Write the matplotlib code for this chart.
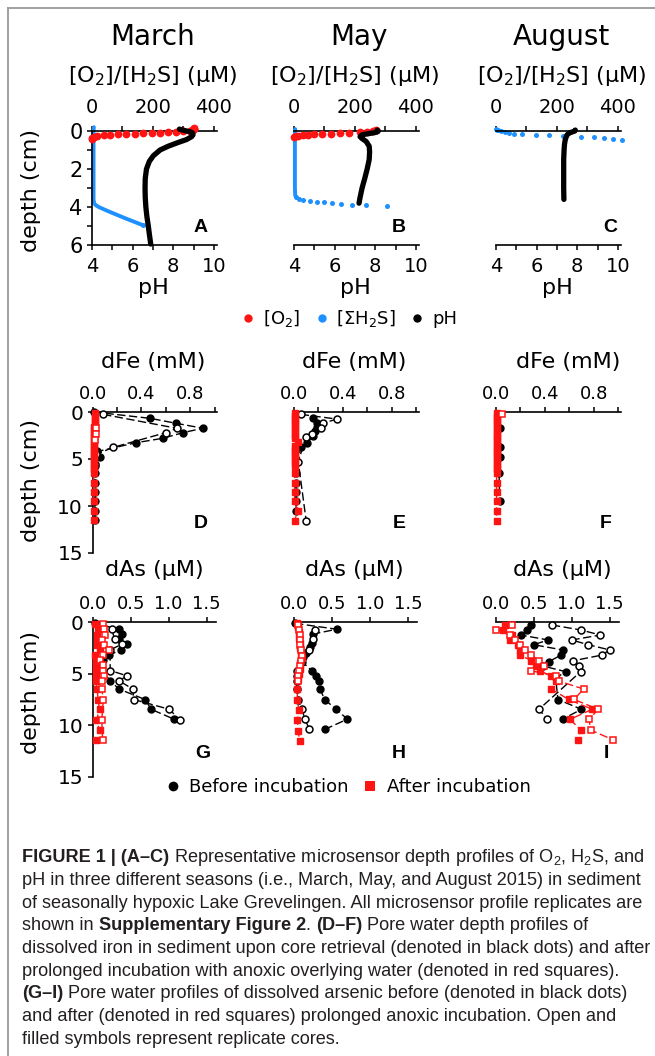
import matplotlib
matplotlib.use('Agg')
import matplotlib.pyplot as plt
from matplotlib.lines import Line2D
from matplotlib.font_manager import FontProperties

plt.rcParams['font.family'] = 'DejaVu Sans'
plt.rcParams['mathtext.fontset'] = 'custom'
plt.rcParams['mathtext.rm'] = 'Liberation Sans'
plt.rcParams['mathtext.it'] = 'Liberation Sans:italic'
plt.rcParams['mathtext.bf'] = 'Liberation Sans:bold'

# ---------------- data: microsensor profiles (A-C) ----------------
MARCH_O2_DEPTH = [-0.15, -0.12, -0.09, -0.06, -0.03, 0.0, 0.02, 0.04, 0.06, 0.08, 0.1, 0.12,
                  0.14, 0.16, 0.18, 0.2, 0.22, 0.25, 0.3, 0.35, 0.4]
MARCH_O2 = [336, 335, 334, 332, 328, 320, 300, 276, 250, 223, 196, 168,
            140, 112, 86, 60, 38, 18, 6, 1, 0]
MARCH_H2S_DEPTH = [-0.2, 0.0, 1.0, 2.0, 3.0, 3.6, 3.8, 3.9, 4.0, 4.2, 4.4, 4.6, 4.8, 4.95]
MARCH_H2S = [6, 5, 5, 5, 5, 5, 7, 12, 22, 50, 80, 110, 142, 166]
MARCH_PH_DEPTH = [-0.1, -0.05, 0.0, 0.05, 0.1, 0.2, 0.3, 0.45, 0.6, 0.8, 1.0, 1.3, 1.6, 2.0,
                  2.5, 3.0, 3.5, 4.0, 4.5, 5.0, 5.5, 5.95]
MARCH_PH = [8.3, 8.45, 8.65, 8.85, 8.95, 8.97, 8.9, 8.65, 8.25, 7.75, 7.35, 7.02, 6.82, 6.68,
            6.62, 6.61, 6.62, 6.65, 6.7, 6.77, 6.83, 6.89]

MAY_O2_DEPTH = [-0.05, 0.0, 0.04, 0.07, 0.1, 0.12, 0.14, 0.16, 0.18, 0.2, 0.22, 0.25, 0.28, 0.32]
MAY_O2 = [268, 260, 240, 215, 180, 150, 120, 92, 66, 45, 28, 14, 5, 0]
MAY_H2S_DEPTH = [-0.1, 0.0, 1.0, 2.0, 3.0, 3.4, 3.5, 3.56, 3.62, 3.67, 3.72, 3.76, 3.8,
                 3.83, 3.87, 3.9, 3.95]
MAY_H2S = [4, 3, 3, 3, 3, 4, 8, 16, 30, 52, 75, 100, 125, 155, 190, 235, 305]
MAY_PH_DEPTH = [-0.05, 0.0, 0.05, 0.1, 0.15, 0.2, 0.3, 0.4, 0.55, 0.8, 1.1, 1.5, 2.0, 2.5,
                3.0, 3.5, 3.8]
MAY_PH = [8.1, 8.15, 8.1, 7.9, 7.6, 7.35, 7.25, 7.35, 7.55, 7.7, 7.72, 7.7, 7.6, 7.48,
          7.35, 7.25, 7.2]

AUG_O2_DEPTH = []
AUG_O2 = []
AUG_H2S_DEPTH = [-0.1, -0.07, -0.03, 0.0, 0.05, 0.1, 0.14, 0.17, 0.2, 0.23, 0.26, 0.3,
                 0.34, 0.38, 0.42, 0.47]
AUG_H2S = [0, 3, 8, 15, 28, 42, 58, 85, 130, 175, 220, 280, 320, 355, 385, 412]
AUG_PH_DEPTH = [-0.05, 0.0, 0.05, 0.1, 0.2, 0.35, 0.5, 0.7, 1.0, 1.5, 2.0, 2.5, 3.0, 3.6]
AUG_PH = [7.9, 7.88, 7.75, 7.62, 7.5, 7.44, 7.4, 7.37, 7.35, 7.33, 7.33, 7.33, 7.33, 7.34]

# ---------------- data: dissolved Fe (D-F), mM ----------------
D_BEF_F_DEPTH = [0.0, 0.67, 1.2, 1.73, 2.2, 2.8, 3.26, 4.2, 4.75, 5.7, 6.5, 7.5, 8.5, 9.5, 10.5, 11.5]
D_BEF_F = [0.01, 0.47, 0.685, 0.905, 0.74, 0.576, 0.36, 0.04, 0.06, 0.02, 0.02, 0.02, 0.02, 0.02, 0.02, 0.02]
D_BEF_O_DEPTH = [0.25, 1.73, 2.2, 3.76, 4.5, 5.5]
D_BEF_O = [0.087, 0.69, 0.60, 0.17, 0.03, 0.02]
D_AFT_F_DEPTH = [0.1, 0.4, 0.7, 1.0, 1.3, 1.6, 1.9, 2.2, 2.5, 2.8, 3.1, 3.4, 3.7, 4.0, 4.3, 4.6,
                 4.9, 5.2, 5.5, 5.8, 6.1, 6.5, 7.5, 8.5, 9.5, 10.5, 11.5]
D_AFT_F = [0.02, 0.02, 0.02, 0.02, 0.02, 0.015, 0.015, 0.015, 0.015, 0.015, 0.01, 0.01, 0.01, 0.01,
           0.01, 0.01, 0.01, 0.01, 0.01, 0.01, 0.01, 0.01, 0.01, 0.01, 0.01, 0.01, 0.01]
D_AFT_O_DEPTH = [1.75, 2.35, 3.0]
D_AFT_O = [0.025, 0.025, 0.02]

E_BEF_F_DEPTH = [0.6, 1.2, 1.6, 2.0, 2.6, 3.26, 3.76, 6.5, 7.5, 8.5, 9.5, 10.5]
E_BEF_F = [0.153, 0.19, 0.186, 0.17, 0.158, 0.11, 0.055, 0.016, 0.016, 0.016, 0.016, 0.02]
E_BEF_O_DEPTH = [0.25, 0.75, 1.2, 1.7, 2.33, 2.7, 5.3, 11.6]
E_BEF_O = [0.055, 0.35, 0.24, 0.22, 0.145, 0.096, 0.035, 0.10]
E_AFT_F_DEPTH = [0.1, 0.4, 0.7, 1.0, 1.3, 1.6, 1.9, 2.2, 2.5, 2.8, 3.2, 3.6, 3.9, 4.2, 4.5, 4.8,
                 5.1, 5.4, 5.7, 6.5, 7.5, 8.5, 9.5, 10.5, 11.6]
E_AFT_F = [0.01, 0.01, 0.01, 0.01, 0.01, 0.01, 0.01, 0.01, 0.01, 0.01, 0.035, 0.01, 0.01, 0.01,
           0.01, 0.01, 0.01, 0.01, 0.01, 0.005, 0.005, 0.005, 0.005, 0.03, 0.005]
E_AFT_O_DEPTH = []
E_AFT_O = []

F_BEF_F_DEPTH = [1.7, 3.7, 4.75, 6.5, 9.5]
F_BEF_F = [0.03, 0.03, 0.03, 0.025, 0.03]
F_BEF_O_DEPTH = []
F_BEF_O = []
F_AFT_F_DEPTH = [0.1, 0.4, 0.7, 1.0, 1.3, 1.6, 1.9, 2.2, 2.5, 2.8, 3.1, 3.4, 3.7, 4.0, 4.3, 4.6,
                 4.9, 5.2, 5.5, 5.8, 6.1, 6.5, 7.5, 8.5, 9.5, 10.5, 11.6]
F_AFT_F = [0.01, 0.01, 0.01, 0.01, 0.01, 0.01, 0.01, 0.01, 0.01, 0.01, 0.01, 0.01, 0.01, 0.01,
           0.01, 0.01, 0.01, 0.01, 0.01, 0.01, 0.01, 0.005, 0.005, 0.005, 0.005, 0.005, 0.005]
F_AFT_O_DEPTH = [0.25]
F_AFT_O = [0.047]

# ---------------- data: dissolved As (G-I), uM ----------------
G_BEF_F_DEPTH = [0.13, 0.7, 1.16, 1.68, 2.13, 2.7, 3.2, 3.68, 4.2, 5.7, 6.5, 7.5, 8.45, 9.4]
G_BEF_F = [0.03, 0.34, 0.38, 0.35, 0.45, 0.37, 0.22, 0.14, 0.08, 0.23, 0.35, 0.69, 0.77, 1.07]
G_BEF_O_DEPTH = [0.7, 1.68, 2.13, 2.7, 4.7, 5.2, 5.7, 6.5, 7.5, 8.45, 9.5]
G_BEF_O = [0.25, 0.29, 0.39, 0.23, 0.23, 0.45, 0.35, 0.53, 0.54, 1.01, 1.15]
G_AFT_F_DEPTH = [0.2, 0.7, 1.26, 1.7, 2.2, 2.7, 3.2, 3.7, 4.2, 4.74, 5.2, 5.7, 6.5, 7.5, 8.45,
                 9.5, 10.45, 11.4]
G_AFT_F = [0.03, 0.07, 0.06, 0.06, 0.06, 0.09, 0.03, 0.05, 0.04, 0.04, 0.05, 0.04, 0.06, 0.07,
           0.09, 0.05, 0.09, 0.05]
G_AFT_O_DEPTH = [0.2, 0.7, 1.26, 1.7, 2.2, 2.7, 3.2, 3.7, 4.2, 4.74, 5.2, 5.7, 6.5, 7.5, 9.5, 11.4]
G_AFT_O = [0.13, 0.15, 0.16, 0.12, 0.15, 0.22, 0.14, 0.1, 0.14, 0.14, 0.15, 0.12, 0.12, 0.14,
           0.12, 0.13]

H_BEF_F_DEPTH = [0.13, 0.7, 1.16, 2.0, 2.4, 2.97, 3.4, 3.84, 4.7, 5.2, 5.7, 6.5, 7.5, 8.45, 9.4, 10.4]
H_BEF_F = [0.01, 0.56, 0.25, 0.23, 0.21, 0.16, 0.12, 0.1, 0.23, 0.29, 0.32, 0.34, 0.4, 0.55, 0.7, 0.4]
H_BEF_O_DEPTH = [0.77, 1.68, 2.7, 4.7, 5.2, 5.7, 6.5, 7.5, 8.45, 9.4, 10.4]
H_BEF_O = [0.27, 0.24, 0.2, 0.04, 0.03, 0.03, 0.04, 0.05, 0.1, 0.14, 0.2]
H_AFT_F_DEPTH = [0.1, 0.5, 1.0, 1.5, 2.0, 2.5, 3.0, 3.5, 4.0, 4.5, 5.0, 5.5, 6.5, 7.5, 8.5,
                 9.5, 10.5, 11.5]
H_AFT_F = [0.04, 0.05, 0.06, 0.06, 0.07, 0.08, 0.09, 0.1, 0.08, 0.07, 0.06, 0.05, 0.04, 0.04,
           0.06, 0.04, 0.05, 0.07]
H_AFT_O_DEPTH = [0.25, 0.75, 1.25, 1.75, 2.25, 2.75, 3.25, 3.75, 4.25, 4.75, 5.25, 5.75]
H_AFT_O = [0.05, 0.06, 0.07, 0.07, 0.08, 0.09, 0.1, 0.09, 0.08, 0.06, 0.05, 0.05]

I_BEF_F_DEPTH = [0.29, 0.77, 1.26, 1.74, 2.2, 2.7, 3.2, 3.84, 4.26, 4.8, 5.45, 7.5, 8.45, 9.4]
I_BEF_F = [0.46, 0.41, 0.33, 0.69, 0.5, 0.88, 0.86, 0.7, 0.62, 0.92, 0.79, 0.82, 1.13, 0.88]
I_BEF_O_DEPTH = [0.29, 0.77, 1.26, 1.74, 2.2, 2.7, 3.2, 3.75, 4.26, 4.8, 8.45, 9.4]
I_BEF_O = [0.74, 1.12, 1.38, 1.0, 1.22, 1.5, 1.4, 1.02, 1.1, 1.12, 0.57, 0.68]
I_AFT_F_DEPTH = [0.29, 0.77, 1.26, 1.74, 2.23, 2.71, 3.19, 3.74, 4.26, 4.71, 5.23, 5.71, 6.49,
                 7.49, 8.45, 9.42, 10.45, 11.42]
I_AFT_F = [0.12, 0.09, 0.22, 0.19, 0.29, 0.32, 0.32, 0.47, 0.53, 0.58, 0.73, 0.79, 0.73, 0.96,
           1.27, 0.98, 1.12, 1.08]
I_AFT_O_DEPTH = [0.29, 0.77, 1.26, 1.74, 2.23, 2.71, 3.19, 3.74, 4.26, 4.71, 5.23, 5.71, 6.49,
                 7.49, 8.45, 9.42, 10.45, 11.42]
I_AFT_O = [0.21, 0.01, 0.19, 0.25, 0.32, 0.38, 0.47, 0.57, 0.64, 0.46, 0.8, 0.83, 1.16, 1.03,
           1.35, 1.23, 1.25, 1.55]

SEASONS = ['March', 'May', 'August']
PANEL_LETTERS = ['A', 'B', 'C', 'D', 'E', 'F', 'G', 'H', 'I']

# ---------------- figure ----------------
W, H = 655, 1056
fig = plt.figure(figsize=(W / 100, H / 100), dpi=100)
RED = '#ff1414'
BLUE = '#1e90ff'
LW_SP = 1.2
MATHF = 'dejavusans'


def add_ax(x0, y0, x1, y1):
    return fig.add_axes([x0 / W, 1 - y1 / H, (x1 - x0) / W, (y1 - y0) / H])


def spines(ax, top=False, bottom=False, left=False):
    vis = {'top': top, 'bottom': bottom, 'left': left, 'right': False}
    for k, v in vis.items():
        ax.spines[k].set_visible(v)
        ax.spines[k].set_linewidth(LW_SP)
    ax.patch.set_visible(False)


def ftext(x, y, s, **kw):
    kw.setdefault('ha', 'center')
    kw.setdefault('va', 'center')
    return fig.text(x / W, 1 - y / H, s, math_fontfamily=MATHF, **kw)


# ---- row 1 ----
row1 = [
    (MARCH_O2_DEPTH, MARCH_O2, MARCH_H2S_DEPTH, MARCH_H2S, MARCH_PH_DEPTH, MARCH_PH, 14),
    (MAY_O2_DEPTH, MAY_O2, MAY_H2S_DEPTH, MAY_H2S, MAY_PH_DEPTH, MAY_PH, 7),
    (AUG_O2_DEPTH, AUG_O2, AUG_H2S_DEPTH, AUG_H2S, AUG_PH_DEPTH, AUG_PH, 0),
]
X0 = [92, 294, 496]
for i, (od, o, hd, h, pd, p, nline) in enumerate(row1):
    x0 = X0[i]
    ax = add_ax(x0, 131, x0 + 125, 245)
    ax2 = ax.twiny()
    ax.set_xlim(0, 410)
    ax.set_ylim(6, 0)
    ax2.set_xlim(4, 10.15)
    ax.xaxis.tick_top()
    ax2.xaxis.tick_bottom()
    spines(ax, top=True, left=(i == 0))
    spines(ax2, bottom=True)
    ax.set_xticks([0, 100, 200, 300, 400], ['0', '', '200', '', '400'])
    ax2.set_xticks([4, 5, 6, 7, 8, 9, 10], ['4', '', '6', '', '8', '', '10'])
    ax.tick_params(axis='x', direction='out', length=3.8, width=1.1, labelsize=14, pad=6.5)
    ax2.tick_params(axis='x', direction='out', length=3.8, width=1.1, labelsize=14, pad=5)
    if i == 0:
        ax.set_yticks([0, 1, 2, 3, 4, 5, 6], ['0', '', '2', '', '4', '', '6'])
        ax.tick_params(axis='y', direction='out', length=3.8, width=1.1, labelsize=15, pad=3)
    else:
        ax.tick_params(axis='y', left=False, labelleft=False)
    if od:
        ax.plot(o, od, 'o', color=RED, ms=5.6, mew=0, clip_on=False, zorder=3)
    if nline > 0:
        ax.plot(h[:nline], hd[:nline], '-', color=BLUE, lw=2.8, clip_on=False,
                solid_capstyle='round', zorder=2)
        ax.plot(h[nline - 1:], hd[nline - 1:], 'o', color=BLUE, ms=3.6, mew=0, clip_on=False, zorder=2)
    else:
        ax.plot(h, hd, 'o', color=BLUE, ms=3.6, mew=0, clip_on=False, zorder=2)
    ax2.plot(p, pd, '-', color='black', lw=3.8, clip_on=False, solid_capstyle='round',
             solid_joinstyle='round', zorder=4)

# ---- rows 2 and 3 ----
rows23 = [
    (D_BEF_F_DEPTH, D_BEF_F, D_BEF_O_DEPTH, D_BEF_O, D_AFT_F_DEPTH, D_AFT_F, D_AFT_O_DEPTH, D_AFT_O),
    (E_BEF_F_DEPTH, E_BEF_F, E_BEF_O_DEPTH, E_BEF_O, E_AFT_F_DEPTH, E_AFT_F, E_AFT_O_DEPTH, E_AFT_O),
    (F_BEF_F_DEPTH, F_BEF_F, F_BEF_O_DEPTH, F_BEF_O, F_AFT_F_DEPTH, F_AFT_F, F_AFT_O_DEPTH, F_AFT_O),
    (G_BEF_F_DEPTH, G_BEF_F, G_BEF_O_DEPTH, G_BEF_O, G_AFT_F_DEPTH, G_AFT_F, G_AFT_O_DEPTH, G_AFT_O),
    (H_BEF_F_DEPTH, H_BEF_F, H_BEF_O_DEPTH, H_BEF_O, H_AFT_F_DEPTH, H_AFT_F, H_AFT_O_DEPTH, H_AFT_O),
    (I_BEF_F_DEPTH, I_BEF_F, I_BEF_O_DEPTH, I_BEF_O, I_AFT_F_DEPTH, I_AFT_F, I_AFT_O_DEPTH, I_AFT_O),
]
DASH = (0, (6, 2.5))
for k, (bfd, bf, bod, bo, afd, af, aod, ao) in enumerate(rows23):
    r, c = divmod(k, 3)
    if r == 0:
        x0 = [92.5, 294, 496][c]
        ax = add_ax(x0, 412, x0 + 124.5, 553)
        ax.set_xlim(0, 1.02)
        ax.set_xticks([0, 0.2, 0.4, 0.6, 0.8, 1.0], ['0.0', '', '0.4', '', '0.8', ''])
    else:
        x0 = [92.7, 294.3, 495.7][c]
        ax = add_ax(x0, 622, x0 + 123, 777)
        ax.set_xlim(0, 1.62)
        ax.set_xticks([0, 0.5, 1.0, 1.5], ['0.0', '0.5', '1.0', '1.5'])
    ax.set_ylim(15, 0)
    ax.xaxis.tick_top()
    spines(ax, top=True, left=(c == 0))
    ax.tick_params(axis='x', direction='out', length=3.8, width=1.1, labelsize=13, pad=2.5)
    if c == 0:
        ax.set_yticks([0, 5, 10, 15])
        ax.tick_params(axis='y', direction='out', length=3.8, width=1.1, labelsize=14.5, pad=3)
    else:
        ax.tick_params(axis='y', left=False, labelleft=False)
    if bfd:
        ax.plot(bf, bfd, ls=DASH, color='black', lw=1.0, marker='o', ms=5, mfc='black',
                mec='black', clip_on=False, zorder=3)
    if bod:
        ax.plot(bo, bod, ls=DASH, color='black', lw=1.0, marker='o', ms=5, mfc='white',
                mec='black', mew=1.1, clip_on=False, zorder=3)
    if afd:
        ax.plot(af, afd, ls=DASH, color=RED, lw=1.0, marker='s', ms=5, mfc=RED,
                mec=RED, clip_on=False, zorder=4)
    if aod:
        ax.plot(ao, aod, ls=DASH, color=RED, lw=1.0, marker='s', ms=5, mfc='white',
                mec=RED, mew=1.1, clip_on=False, zorder=4)

# ---- texts ----
for x, s in zip([152.5, 359, 561], SEASONS):
    ftext(x, 37, s, size=20)
for x in [152.5, 355, 562]:
    ftext(x, 76, '[O$_2$]/[H$_2$S] (µM)', size=16)
for x in [153, 355, 557]:
    ftext(x, 288, 'pH', size=16)
for x in [153.5, 354, 568]:
    ftext(x, 362, 'dFe (mM)', size=16)
for x in [154.3, 354.7, 562]:
    ftext(x, 570, 'dAs (µM)', size=16)
for y in [190, 480, 693]:
    ftext(31, y, 'depth (cm)', size=16, rotation=90)

letter_pos = [(201, 227), (399, 227), (610, 227), (201, 523), (399, 523), (606, 523),
              (203, 753), (399, 753), (606, 753)]
for (x, y), L in zip(letter_pos, PANEL_LETTERS):
    fig.text(x / W, 1 - y / H, L, ha='center', va='center', size=14, weight='bold',
             family='Liberation Sans')

# ---- legends ----
lp = FontProperties(family='DejaVu Sans', size=13, math_fontfamily=MATHF)
h1 = [Line2D([], [], ls='', marker='o', ms=6, mew=0, color=RED),
      Line2D([], [], ls='', marker='o', ms=6, mew=0, color=BLUE),
      Line2D([], [], ls='', marker='o', ms=6, mew=0, color='black')]
fig.legend(h1, ['[O$_2$]', '[ΣH$_2$S]', 'pH'], loc='center', bbox_to_anchor=(349 / W, 1 - 319 / H),
           ncol=3, frameon=False, prop=lp, handlelength=0.8, handletextpad=0.4,
           columnspacing=0.8, borderpad=0, borderaxespad=0)
h2 = [Line2D([], [], ls='', marker='o', ms=7, mew=0, color='black'),
      Line2D([], [], ls='', marker='s', ms=7, mew=0, color=RED)]
fig.legend(h2, ['Before incubation', 'After incubation'], loc='center',
           bbox_to_anchor=(348 / W, 1 - 787 / H), ncol=2, frameon=False, prop=lp,
           handlelength=0.8, handletextpad=0.5, columnspacing=0.8, borderpad=0, borderaxespad=0)

# ---- frame lines ----
fig.add_artist(Line2D([7.5 / W, 7.5 / W], [0, 1 - 7.5 / H], color='#999999', lw=1.3,
                      transform=fig.transFigure))
fig.add_artist(Line2D([7.5 / W, 1], [1 - 7.5 / H, 1 - 7.5 / H], color='#999999', lw=1.3,
                      transform=fig.transFigure))

# ---- caption ----
CAPTION = [
    [('FIGURE 1 | (A–C)', 'bold'), (' Representative microsensor depth profiles of O$_2$, H$_2$S, and', 'normal')],
    [('pH in three different seasons (i.e., March, May, and August 2015) in sediment', 'normal')],
    [('of seasonally hypoxic Lake Grevelingen. All microsensor profile replicates are', 'normal')],
    [('shown in ', 'normal'), ('Supplementary Figure 2', 'bold'), ('. ', 'normal'), ('(D–F)', 'bold'),
     (' Pore water depth profiles of', 'normal')],
    [('dissolved iron in sediment upon core retrieval (denoted in black dots) and after', 'normal')],
    [('prolonged incubation with anoxic overlying water (denoted in red squares).', 'normal')],
    [('(G–I)', 'bold'), (' Pore water profiles of dissolved arsenic before (denoted in black dots)', 'normal')],
    [('and after (denoted in red squares) prolonged anoxic incubation. Open and', 'normal')],
    [('filled symbols represent replicate cores.', 'normal')],
]
renderer = fig.canvas.get_renderer()
CAP_FONT = 'Liberation Sans'
CAP_COLOR = '#231f20'


def seg_width(s, weight, size):
    t1 = fig.text(0, 0, 'I' + s + 'I', size=size, weight=weight, family=CAP_FONT)
    t2 = fig.text(0, 0, 'II', size=size, weight=weight, family=CAP_FONT)
    w = t1.get_window_extent(renderer).width - t2.get_window_extent(renderer).width
    t1.remove()
    t2.remove()
    return w


base = 12.0
w_first = sum(seg_width(s, wt, base) for s, wt in CAPTION[0])
cap_size = base * 620.0 / w_first
for li, line in enumerate(CAPTION):
    x = 22.0
    yb = 862.0 + li * 22.75
    for s, wt in line:
        fig.text(x / W, 1 - yb / H, s, size=cap_size, weight=wt, family=CAP_FONT,
                 color=CAP_COLOR, ha='left', va='baseline')
        x += seg_width(s, wt, cap_size)

fig.savefig('out.png', dpi=100)
